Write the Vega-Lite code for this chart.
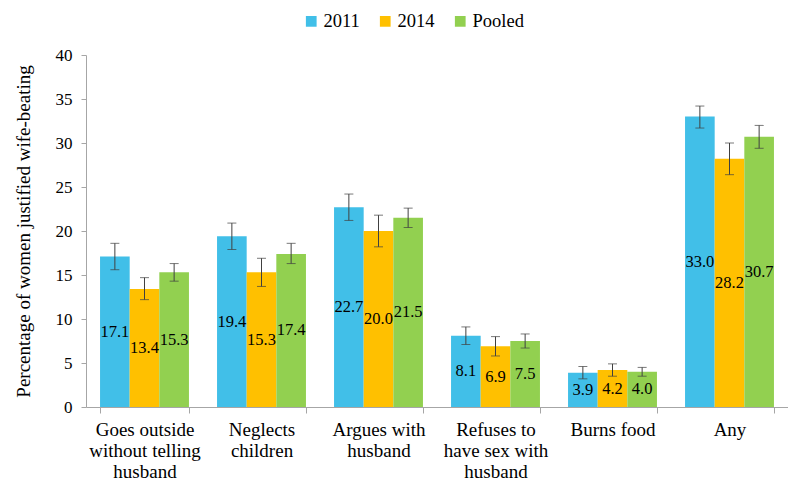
{
  "$schema": "https://vega.github.io/schema/vega-lite/v6.json",
  "width": 702,
  "height": 352,
  "autosize": "none",
  "padding": {"left": 86, "top": 55, "right": 0, "bottom": 78},
  "background": "white",
  "config": {
    "font": "Liberation Serif",
    "view": {"stroke": null},
    "axis": {"labelFont": "Liberation Serif", "titleFont": "Liberation Serif"},
    "legend": {"labelFont": "Liberation Serif"},
    "text": {"font": "Liberation Serif"}
  },
  "data": {
    "values": [
      {"cat": "Goes outside|without telling|husband", "year": "2011", "value": 17.1, "low": 15.6, "high": 18.6},
      {"cat": "Goes outside|without telling|husband", "year": "2014", "value": 13.4, "low": 12.2, "high": 14.7},
      {"cat": "Goes outside|without telling|husband", "year": "Pooled", "value": 15.3, "low": 14.3, "high": 16.3},
      {"cat": "Neglects|children", "year": "2011", "value": 19.4, "low": 17.9, "high": 20.9},
      {"cat": "Neglects|children", "year": "2014", "value": 15.3, "low": 13.7, "high": 16.9},
      {"cat": "Neglects|children", "year": "Pooled", "value": 17.4, "low": 16.3, "high": 18.6},
      {"cat": "Argues with|husband", "year": "2011", "value": 22.7, "low": 21.2, "high": 24.2},
      {"cat": "Argues with|husband", "year": "2014", "value": 20.0, "low": 18.2, "high": 21.8},
      {"cat": "Argues with|husband", "year": "Pooled", "value": 21.5, "low": 20.4, "high": 22.6},
      {"cat": "Refuses to|have sex with|husband", "year": "2011", "value": 8.1, "low": 7.1, "high": 9.1},
      {"cat": "Refuses to|have sex with|husband", "year": "2014", "value": 6.9, "low": 5.8, "high": 8.0},
      {"cat": "Refuses to|have sex with|husband", "year": "Pooled", "value": 7.5, "low": 6.7, "high": 8.3},
      {"cat": "Burns food", "year": "2011", "value": 3.9, "low": 3.2, "high": 4.6},
      {"cat": "Burns food", "year": "2014", "value": 4.2, "low": 3.5, "high": 4.9},
      {"cat": "Burns food", "year": "Pooled", "value": 4.0, "low": 3.5, "high": 4.5},
      {"cat": "Any", "year": "2011", "value": 33.0, "low": 31.7, "high": 34.2},
      {"cat": "Any", "year": "2014", "value": 28.2, "low": 26.4, "high": 30.0},
      {"cat": "Any", "year": "Pooled", "value": 30.7, "low": 29.4, "high": 32.0}
    ]
  },
  "transform": [{"calculate": "datum.value / 2", "as": "mid"}],
  "encoding": {
    "x": {
      "field": "cat",
      "type": "nominal",
      "sort": null,
      "scale": {"paddingInner": 0.24, "paddingOuter": 0.12},
      "axis": {
        "title": null,
        "labelAngle": 0,
        "labelExpr": "split(datum.label, '|')",
        "labelFontSize": 19,
        "labelLineHeight": 21,
        "labelColor": "#000000",
        "labelPadding": 7,
        "labelBaseline": "top",
        "tickBand": "extent",
        "tickSize": 6,
        "tickColor": "#a6a6a6",
        "domainColor": "#a6a6a6",
        "labelLimit": 200
      }
    },
    "xOffset": {"field": "year", "type": "nominal", "sort": ["2011", "2014", "Pooled"]}
  },
  "layer": [
    {
      "mark": {"type": "bar"},
      "encoding": {
        "y": {
          "field": "value",
          "type": "quantitative",
          "scale": {"domain": [0, 40]},
          "axis": {
            "title": "Percentage of women justified wife-beating",
            "titleFontSize": 19,
            "titleFontWeight": "normal",
            "titleColor": "#000000",
            "titlePadding": 22,
            "values": [0, 5, 10, 15, 20, 25, 30, 35, 40],
            "labelFontSize": 17,
            "labelColor": "#000000",
            "labelPadding": 9,
            "tickSize": 5,
            "tickColor": "#a6a6a6",
            "domainColor": "#a6a6a6",
            "grid": false
          }
        },
        "color": {
          "field": "year",
          "type": "nominal",
          "scale": {"domain": ["2011", "2014", "Pooled"], "range": ["#41BFE8", "#FFC000", "#92D050"]},
          "legend": {
            "title": null,
            "orient": "none",
            "direction": "horizontal",
            "legendX": 216,
            "legendY": -43,
            "symbolType": "square",
            "symbolSize": 115,
            "symbolStrokeWidth": 0,
            "labelFontSize": 18.5,
            "labelColor": "#000000",
            "columnPadding": 16,
            "labelOffset": 3
          }
        }
      }
    },
    {
      "mark": {"type": "rule", "color": "#404040", "strokeWidth": 1},
      "encoding": {
        "y": {"field": "low", "type": "quantitative"},
        "y2": {"field": "high"}
      }
    },
    {
      "mark": {"type": "tick", "color": "#404040", "size": 9, "thickness": 1},
      "encoding": {"y": {"field": "low", "type": "quantitative"}}
    },
    {
      "mark": {"type": "tick", "color": "#404040", "size": 9, "thickness": 1},
      "encoding": {"y": {"field": "high", "type": "quantitative"}}
    },
    {
      "mark": {"type": "text", "fontSize": 16.5, "color": "#000000", "baseline": "middle"},
      "encoding": {
        "y": {"field": "mid", "type": "quantitative"},
        "text": {"field": "value", "type": "quantitative", "format": ".1f"}
      }
    }
  ]
}
